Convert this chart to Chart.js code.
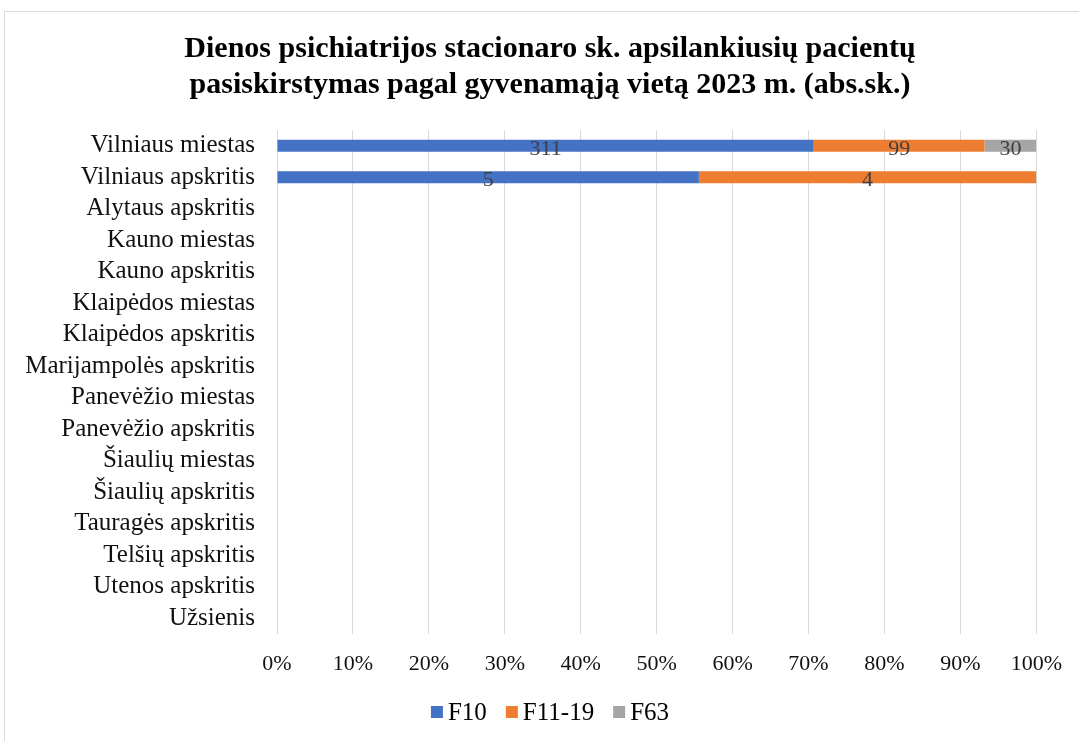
<!DOCTYPE html>
<html>
<head>
<meta charset="utf-8">
<script src="https://cdn.jsdelivr.net/npm/chart.js@4"></script>
<style>
  html, body { margin: 0; padding: 0; background: #fff; overflow: hidden; }
  #wrap { position: relative; width: 1079px; height: 741px; }
  #frame { position: absolute; left: 4px; top: 11px; width: 1100px; height: 760px; border: 1px solid #d9d9d9; box-sizing: border-box; }
  canvas { position: absolute; left: 0; top: 0; }
</style>
</head>
<body>
<div id="wrap">
  <div id="frame"></div>
  <canvas id="chart" width="1079" height="741"></canvas>
</div>
<script>
// categories (top to bottom)
const regions = [
  'Vilniaus miestas', 'Vilniaus apskritis', 'Alytaus apskritis', 'Kauno miestas',
  'Kauno apskritis', 'Klaipėdos miestas', 'Klaipėdos apskritis', 'Marijampolės apskritis',
  'Panevėžio miestas', 'Panevėžio apskritis', 'Šiaulių miestas', 'Šiaulių apskritis',
  'Tauragės apskritis', 'Telšių apskritis', 'Utenos apskritis', 'Užsienis'
];

// absolute counts per diagnosis group
const f10    = [311, 5, null, null, null, null, null, null, null, null, null, null, null, null, null, null];
const f11_19 = [99, 4, null, null, null, null, null, null, null, null, null, null, null, null, null, null];
const f63    = [30, null, null, null, null, null, null, null, null, null, null, null, null, null, null, null];

const xTicks = [0, 10, 20, 30, 40, 50, 60, 70, 80, 90, 100];

const FONT = "'Liberation Serif', 'Times New Roman', serif";
const MID_X = 550; // horizontal centre of the chart frame

// turn counts into row shares (100% stacked)
const totals = regions.map((_, i) => (f10[i] || 0) + (f11_19[i] || 0) + (f63[i] || 0));
function share(arr) {
  return arr.map((v, i) => (v == null || !totals[i]) ? null : v / totals[i] * 100);
}

const series = [
  { label: 'F10', raw: f10, color: '#4472C4' },
  { label: 'F11-19', raw: f11_19, color: '#ED7D31' },
  { label: 'F63', raw: f63, color: '#A5A5A5' }
];

// centre the title over the whole frame, not just the padded box
const centerTitle = {
  id: 'centerTitle',
  afterLayout(chart) {
    if (chart.titleBlock) {
      chart.titleBlock.left = MID_X - 540;
      chart.titleBlock.right = MID_X + 540;
    }
  }
};

// draw the count in the middle of each segment
const valueLabels = {
  id: 'valueLabels',
  afterDatasetsDraw(chart) {
    const ctx = chart.ctx;
    ctx.save();
    ctx.font = '22px ' + FONT;
    ctx.fillStyle = '#404040';
    ctx.textAlign = 'center';
    ctx.textBaseline = 'middle';
    chart.data.datasets.forEach((ds, di) => {
      const meta = chart.getDatasetMeta(di);
      meta.data.forEach((bar, i) => {
        const v = ds.raw[i];
        if (v == null) return;
        ctx.fillText(String(v), (bar.x + bar.base) / 2, bar.y + 3);
      });
    });
    ctx.restore();
  }
};

// Excel-like legend: small square, tight gap to the text
const bottomLegend = {
  id: 'bottomLegend',
  afterDraw(chart) {
    const ctx = chart.ctx;
    const box = 12, gap = 5, spacing = 19;
    const y = chart.chartArea.bottom + 78;
    ctx.save();
    ctx.font = '25px ' + FONT;
    ctx.textBaseline = 'middle';
    ctx.textAlign = 'left';
    const widths = series.map(s => ctx.measureText(s.label).width);
    const total = widths.reduce((a, w) => a + box + gap + w, 0) + spacing * (series.length - 1);
    let x = MID_X - total / 2;
    series.forEach((s, i) => {
      ctx.fillStyle = s.color;
      ctx.fillRect(x, y - box / 2, box, box);
      ctx.fillStyle = '#000';
      ctx.fillText(s.label, x + box + gap, y + 1);
      x += box + gap + widths[i] + spacing;
    });
    ctx.restore();
  }
};

new Chart(document.getElementById('chart'), {
  type: 'bar',
  data: {
    labels: regions,
    datasets: series.map(s => ({
      label: s.label,
      data: share(s.raw),
      raw: s.raw,
      backgroundColor: s.color,
      borderWidth: 0,
      barPercentage: 0.38,
      categoryPercentage: 1
    }))
  },
  options: {
    indexAxis: 'y',
    responsive: false,
    animation: false,
    layout: { padding: { top: 31, right: 42, bottom: 49, left: 0 } },
    plugins: {
      title: {
        display: true,
        text: ['Dienos psichiatrijos stacionaro sk. apsilankiusių pacientų',
               'pasiskirstymas pagal gyvenamąją vietą 2023 m. (abs.sk.)'],
        color: '#000',
        font: { family: FONT, size: 30, weight: 'bold', lineHeight: 1.2 },
        padding: { top: 0, bottom: 27 }
      },
      legend: { display: false },
      tooltip: { enabled: false }
    },
    scales: {
      x: {
        stacked: true,
        min: 0,
        max: 100,
        afterBuildTicks(scale) { scale.ticks = xTicks.map(v => ({ value: v })); },
        afterFit(scale) { scale.height = 58; },
        ticks: {
          color: '#111',
          font: { family: FONT, size: 22 },
          padding: 17,
          callback: v => v + '%'
        },
        grid: { color: '#d9d9d9', lineWidth: 1, drawTicks: false },
        border: { display: false }
      },
      y: {
        stacked: true,
        afterFit(scale) { scale.width = 277; },
        ticks: {
          color: '#111',
          font: { family: FONT, size: 25 },
          padding: 22,
          autoSkip: false
        },
        grid: { display: false, drawTicks: false },
        border: { display: false }
      }
    }
  },
  plugins: [centerTitle, valueLabels, bottomLegend]
});
</script>
</body>
</html>
